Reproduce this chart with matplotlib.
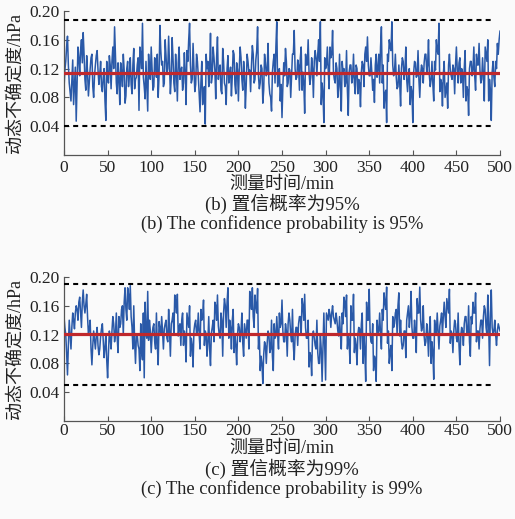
import numpy as np
import matplotlib
matplotlib.use("Agg")
import matplotlib.pyplot as plt

plt.rcParams['font.family'] = ['Liberation Serif', 'Noto Sans CJK SC', 'DejaVu Sans']

# ---- data (uncertainty in 1e-3 hPa); *_even: minutes 0,2,...,500 ; *_odd: minutes 1,3,...,499 ----
unc_95_even = [
    92, 130, 165, 100, 75, 132, 95, 47, 150, 110, 160, 170, 105, 138, 82, 120, 140, 80, 125, 145, 98, 130, 88, 120, 48, 110,
    138, 92, 150, 178, 100, 128, 70, 115, 140, 72, 120, 95, 135, 85, 148, 105, 125, 62, 140, 183, 95, 130, 61, 118, 150,
    90, 135, 108, 80, 180, 125, 95, 160, 112, 165, 85, 163, 100, 140, 75, 150, 118, 90, 142, 70, 130, 183, 100, 155, 88,
    140, 110, 60, 130, 85, 43, 120, 95, 169, 110, 135, 78, 164, 120, 90, 148, 100, 70, 138, 112, 82, 145, 98, 128, 75,
    150, 105, 130, 65, 140, 115, 88, 152, 100, 132, 178, 92, 125, 72, 140, 110, 155, 85, 61, 130, 100, 185, 115, 75, 52,
    128, 148, 95, 120, 80, 140, 173, 105, 132, 90, 150, 115, 58, 125, 160, 98, 135, 80, 145, 110, 160, 185, 100, 45, 120,
    150, 92, 135, 173, 105, 128, 80, 140, 61, 115, 95, 145, 55, 125, 100, 140, 85, 120, 105, 67, 130, 95, 150, 164, 110,
    135, 90, 73, 140, 120, 100, 178, 125, 85, 45, 130, 150, 185, 110, 140, 92, 125, 68, 135, 105, 150, 88, 120, 95, 45,
    130, 108, 145, 80, 125, 100, 140, 115, 160, 95, 130, 75, 118, 145, 183, 105, 68, 130, 90, 65, 140, 110, 125, 85, 150,
    100, 135, 120, 80, 145, 95, 55, 130, 110, 150, 90, 125, 155, 100, 135, 75, 140, 160, 105, 48, 130, 95, 120, 140, 172,
]
unc_95_odd = [
    118, 150, 125, 88, 105, 70, 122, 98, 135, 145, 128, 140, 90, 115, 102, 135, 95, 110, 138, 118, 112, 95, 108, 75, 130,
    100, 125, 130, 120, 140, 85, 105, 128, 95, 118, 82, 130, 110, 98, 125, 92, 108, 135, 150, 120, 108, 78, 95, 140, 105,
    120, 95, 125, 140, 110, 145, 130, 100, 138, 120, 125, 108, 135, 88, 115, 128, 105, 122, 100, 115, 145, 160, 125, 105, 120,
    98, 130, 85, 100, 70, 95, 140, 130, 120, 100, 150, 118, 135, 105, 125, 85, 130, 95, 120, 100, 122, 110, 140, 85, 118,
    120, 135, 90, 112, 98, 130, 118, 125, 140, 105, 145, 110, 100, 120, 90, 128, 118, 100, 80, 115, 140, 150, 95, 120, 98,
    95, 110, 130, 100, 118, 110, 140, 120, 108, 125, 135, 90, 100, 140, 125, 115, 108, 120, 130, 135, 140, 130, 70, 85, 135,
    125, 118, 150, 140, 115, 100, 120, 95, 90, 130, 120, 100, 90, 115, 125, 108, 100, 125, 85, 100, 115, 125, 140, 130, 125,
    110, 115, 105, 125, 108, 140, 150, 100, 65, 90, 140, 160, 145, 125, 115, 108, 95, 100, 120, 130, 118, 105, 110, 70, 88,
    115, 128, 110, 105, 112, 120, 128, 140, 125, 110, 105, 98, 130, 160, 140, 88, 100, 112, 80, 100, 125, 118, 105, 120, 125,
    118, 128, 100, 115, 120, 75, 90, 120, 130, 118, 110, 140, 125, 118, 105, 110, 150, 130, 75, 90, 115, 108, 130, 155, 160,
]
unc_99_even = [
    145, 120, 64, 140, 100, 150, 128, 160, 140, 172, 130, 182, 150, 176, 120, 140, 78, 125, 100, 130, 92, 118, 135, 88, 120, 60,
    125, 100, 145, 110, 150, 95, 130, 155, 120, 185, 140, 175, 188, 130, 160, 80, 120, 100, 135, 85, 60, 120, 180, 140, 95,
    130, 110, 150, 78, 128, 145, 100, 135, 115, 155, 90, 140, 120, 165, 176, 130, 105, 150, 125, 82, 140, 160, 115, 75, 135,
    120, 150, 100, 140, 168, 125, 90, 145, 77, 130, 110, 160, 175, 120, 150, 90, 170, 130, 185, 140, 100, 155, 120, 78, 135,
    110, 150, 90, 125, 140, 100, 170, 185, 130, 160, 184, 120, 90, 52, 110, 80, 125, 95, 140, 70, 115, 145, 100, 130, 168,
    110, 135, 90, 150, 120, 155, 85, 130, 105, 145, 120, 160, 176, 115, 140, 95, 63, 125, 105, 140, 80, 120, 55, 150, 57,
    145, 155, 130, 160, 140, 150, 125, 145, 100, 135, 165, 175, 120, 80, 140, 176, 115, 78, 130, 100, 150, 120, 55, 140, 183,
    110, 135, 90, 55, 120, 150, 100, 140, 165, 186, 125, 95, 70, 130, 150, 120, 178, 140, 100, 125, 88, 150, 130, 180, 115,
    140, 95, 150, 186, 125, 160, 105, 135, 90, 145, 110, 58, 125, 150, 100, 140, 120, 165, 130, 160, 183, 125, 95, 140, 115,
    150, 78, 130, 105, 145, 120, 160, 90, 135, 150, 178, 125, 100, 140, 115, 160, 130, 175, 77, 182, 120, 140, 105, 135, 125,
]
unc_99_odd = [
    130, 95, 105, 120, 130, 140, 150, 155, 165, 150, 165, 160, 162, 145, 128, 100, 105, 112, 118, 105, 100, 128, 110, 102, 85,
    95, 115, 125, 135, 120, 115, 145, 135, 160, 165, 155, 185, 155, 145, 100, 110, 118, 105, 70, 95, 150, 165, 115, 112, 125,
    118, 135, 100, 105, 138, 120, 125, 128, 140, 110, 125, 135, 150, 175, 150, 118, 135, 140, 105, 115, 150, 130, 90, 105, 125,
    140, 125, 120, 155, 145, 105, 120, 110, 100, 122, 140, 165, 140, 132, 115, 140, 150, 160, 165, 115, 130, 140, 95, 105, 120,
    130, 125, 108, 135, 115, 140, 180, 155, 145, 175, 150, 100, 70, 80, 92, 105, 108, 120, 100, 90, 135, 118, 120, 150, 135,
    125, 110, 125, 135, 140, 110, 105, 118, 130, 135, 145, 170, 140, 130, 115, 75, 90, 118, 115, 100, 95, 80, 100, 100, 105,
    150, 140, 148, 150, 145, 135, 140, 118, 120, 150, 172, 145, 100, 110, 160, 140, 95, 105, 120, 128, 135, 80, 95, 165, 140,
    125, 108, 70, 85, 140, 125, 120, 155, 178, 155, 108, 80, 105, 145, 135, 155, 160, 118, 110, 105, 125, 140, 160, 145, 130,
    115, 125, 170, 150, 140, 130, 118, 110, 120, 125, 80, 95, 140, 120, 125, 132, 150, 145, 145, 170, 150, 108, 120, 125, 135,
    110, 105, 118, 125, 135, 145, 120, 110, 145, 165, 150, 110, 125, 128, 140, 145, 155, 120, 135, 150, 130, 125, 120, 125, 130,
]
mean_95 = 0.114
bounds_95 = [0.187, 0.040]
mean_99 = 0.121
bounds_99 = [0.190, 0.050]
bound_span = [0, 491]   # minutes covered by the dashed confidence bounds

xticks = [0, 50, 100, 150, 200, 250, 300, 350, 400, 450, 500]
yticks = [0.04, 0.08, 0.12, 0.16, 0.20]
xlabel = '测量时间/min'
ylabel = '动态不确定度/hPa'
captions = [('(b) 置信概率为95%', '(b) The confidence probability is 95%'),
            ('(c) 置信概率为99%', '(c) The confidence probability is 99%')]


def series(even, odd):
    t = np.concatenate([np.arange(len(even)) * 2, np.arange(len(odd)) * 2 + 1])
    v = np.concatenate([even, odd]) / 1000.0
    o = np.argsort(t)
    return t[o], v[o]


W, H = 515, 519
fig = plt.figure(figsize=(W / 100, H / 100), dpi=100, facecolor='#fafafa')

panels = [
    (series(unc_95_even, unc_95_odd), mean_95, bounds_95, 11, 155, 3.5, captions[0], (184, 204, 224)),
    (series(unc_99_even, unc_99_odd), mean_99, bounds_99, 277, 421, 1.2, captions[1], (448, 469, 489)),
]

blue = '#2a59a8'
red = '#c0282c'
for (t, v), mean, bounds, top_px, bot_px, pad, (cn, en), (yl, yc, ye) in panels:
    ax = fig.add_axes([64 / W, 1 - bot_px / H, 436 / W, (bot_px - top_px) / H])
    ax.set_facecolor('#fafafa')
    ax.plot(t, v, color=blue, lw=1.1, zorder=2)
    ax.axhline(mean, color=red, lw=2.3, zorder=3)
    ax.hlines(bounds, bound_span[0], bound_span[1], colors='black', lw=1.5,
              linestyles=[(0, (2.4, 2.0))], zorder=3)
    ax.set_xlim(0, 500)
    ax.set_ylim(0, 0.2)
    ax.set_xticks(xticks)
    ax.set_yticks(yticks)
    ax.set_yticklabels([f'{y:.2f}' for y in yticks])
    for s in ['top', 'right']:
        ax.spines[s].set_visible(False)
    for s in ['left', 'bottom']:
        ax.spines[s].set_color('#555555')
        ax.spines[s].set_linewidth(0.9)
    ax.tick_params(axis='both', direction='in', length=3.5, width=0.8, color='#555555',
                   labelsize=12.5, labelcolor='#222222')
    ax.tick_params(axis='x', pad=pad)
    ax.tick_params(axis='y', pad=3)
    ax.set_ylabel(ylabel, fontsize=13, color='#222222', labelpad=4)
    fig.text(282 / W, 1 - yl / H, xlabel, ha='center', va='center', fontsize=13, color='#222222')
    fig.text(282 / W, 1 - yc / H, cn, ha='center', va='center', fontsize=13.5, color='#222222')
    fig.text(282 / W, 1 - ye / H, en, ha='center', va='center', fontsize=13.3, color='#222222')

fig.savefig('out.png', dpi=100, facecolor=fig.get_facecolor())
